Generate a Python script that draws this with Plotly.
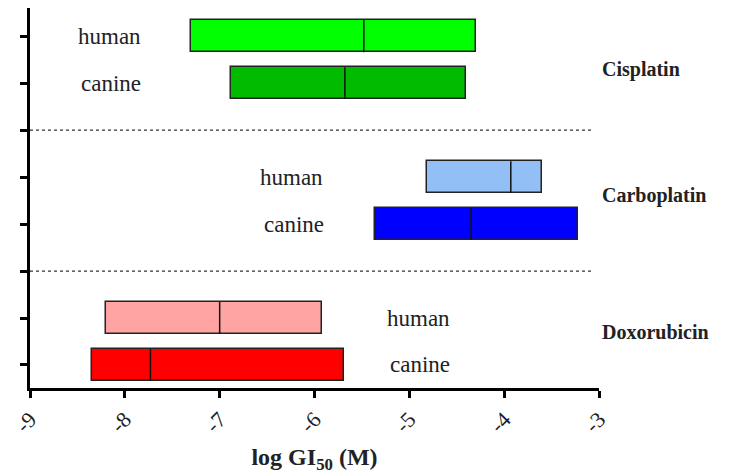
import plotly.graph_objects as go

# Data (log GI50, M)
drugs = ["Cisplatin", "Carboplatin", "Doxorubicin"]
cell_types = ["human", "canine"]
rows = ["Cisplatin human", "Cisplatin canine", "Carboplatin human", "Carboplatin canine",
        "Doxorubicin human", "Doxorubicin canine"]
y_pos = [7, 6, 4, 3, 1, 0]
low = [-7.30, -6.88, -4.81, -5.36, -8.20, -8.35]
high = [-4.30, -4.40, -3.60, -3.22, -5.92, -5.69]
median = [-5.48, -5.68, -3.93, -4.35, -7.00, -7.73]
colors = ["#00FF00", "#00BB00", "#93BFF7", "#0000FF", "#FFA3A3", "#FF0000"]
separators = [5, 2]
tick_vals = [-9, -8, -7, -6, -5, -4, -3]
tick_text = ["-9", "-8", "-7", "-6", "-5", "-4", "-3"]

serif = "Liberation Serif, Times New Roman, serif"
bar_w = 0.68

fig = go.Figure()
fig.add_trace(go.Bar(
    y=y_pos, x=[h - l for l, h in zip(low, high)], base=low, orientation="h",
    width=bar_w, marker=dict(color=colors, line=dict(color="#222", width=1.5)),
    showlegend=False, hoverinfo="skip"))
for yp, m in zip(y_pos, median):
    fig.add_trace(go.Scatter(x=[m, m], y=[yp - bar_w / 2, yp + bar_w / 2], mode="lines",
                             line=dict(color="#111", width=1.5), showlegend=False, hoverinfo="skip"))
for s in separators:
    fig.add_trace(go.Scatter(x=[-9, -3.07], y=[s, s], mode="lines",
                             line=dict(color="#333", width=1.2, dash="dot"), showlegend=False, hoverinfo="skip"))

# cell-type labels
label_pos = [(-8.16, 7), (-8.15, 6), (-6.24, 4), (-6.22, 3), (-4.90, 1), (-4.89, 0)]
label_txt = ["human", "canine", "human", "canine", "human", "canine"]
for (xp, yp), t in zip(label_pos, label_txt):
    fig.add_annotation(x=xp, y=yp, text=t, showarrow=False, xref="x", yref="y",
                       font=dict(family=serif, size=23, color="#222"))

drug_y = [6.3, 3.6, 0.7]
for d, yp in zip(drugs, drug_y):
    fig.add_annotation(x=1.0, y=yp, xref="paper", yref="y", xanchor="left", xshift=1,
                       text="<b>%s</b>" % d, showarrow=False,
                       font=dict(family=serif, size=20, color="#222"))

fig.update_layout(
    width=744, height=474, margin=dict(l=30, r=145, t=8, b=86),
    plot_bgcolor="white", paper_bgcolor="white", bargap=0,
    xaxis=dict(range=[-9, -3], tickvals=tick_vals, ticktext=tick_text, tickangle=-45,
               automargin=False,
               showgrid=False, zeroline=False, showline=True, linecolor="black", linewidth=2.5,
               ticks="outside", ticklen=7, tickwidth=2.5, tickcolor="black",
               tickfont=dict(family=serif, size=22, color="#222"),
               title=dict(text="<b>log GI<sub>50</sub> (M)</b>", font=dict(family=serif, size=24, color="#222"),
                          standoff=18)),
    yaxis=dict(range=[-0.49, 7.6], tickvals=list(range(8)), showticklabels=False, automargin=False,
               showgrid=False, zeroline=False, showline=True, linecolor="black", linewidth=2.5,
               ticks="outside", ticklen=7, tickwidth=2.5, tickcolor="black"),
)
fig.write_html("out.html")
